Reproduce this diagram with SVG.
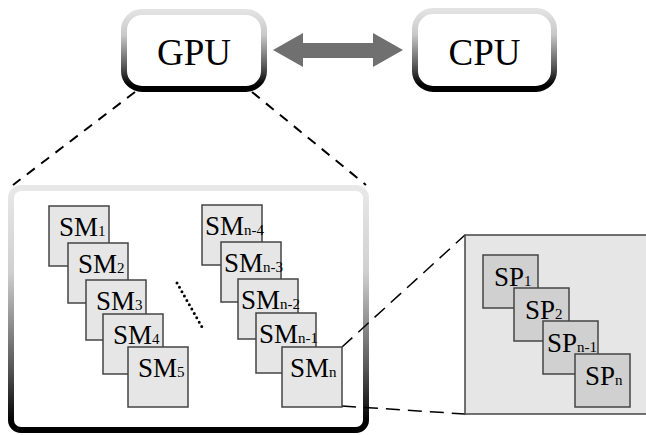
<svg xmlns="http://www.w3.org/2000/svg" width="646" height="435" viewBox="0 0 646 435">
<style>
text{font-family:"Liberation Serif","Times New Roman",serif;fill:#000}
.big{font-size:37px;text-anchor:middle}
.lbl{font-size:27px}
.sub{font-size:15px}
.sm{fill:#e6e6e6;stroke:#444;stroke-width:1.5}
.sp{fill:#d0d0d0;stroke:#444;stroke-width:1.5}
.dash{fill:none;stroke:#000;stroke-width:2;stroke-dasharray:10 8}
.dash2{fill:none;stroke:#000;stroke-width:1.5;stroke-dasharray:14 8}
</style>
<defs>
<linearGradient id="gr" x1="0" y1="0" x2="0" y2="1">
<stop offset="0" stop-color="#e2e2e2"/>
<stop offset="0.3" stop-color="#c8c8c8"/>
<stop offset="0.7" stop-color="#5a5a5a"/>
<stop offset="0.95" stop-color="#000"/>
</linearGradient>
<linearGradient id="gr2" x1="0" y1="0" x2="0" y2="1">
<stop offset="0" stop-color="#e8e8e8"/>
<stop offset="0.35" stop-color="#cfcfcf"/>
<stop offset="0.75" stop-color="#555"/>
<stop offset="0.97" stop-color="#000"/>
</linearGradient>
</defs>
<g id="gpu-detail">
<rect x="11" y="188" width="355" height="242" rx="10" fill="#fff" stroke="url(#gr2)" stroke-width="6"/>
</g>
<g id="connectors">
<line class="dash" x1="135" y1="92" x2="13" y2="185"/>
<line class="dash" x1="252" y1="92" x2="366" y2="185"/>
<line class="dash2" x1="342" y1="347" x2="465" y2="235"/>
<line class="dash2" x1="342" y1="406" x2="465" y2="414"/>
<polygon fill="#707070" points="273,50 303,33 303,43 373,43 373,33 403,50 373,67 373,58 303,58 303,67"/>
</g>
<g id="gpu">
<rect x="124" y="12" width="140" height="77" rx="18" fill="#fff" stroke="url(#gr)" stroke-width="6"/>
<text class="big" x="194" y="65">GPU</text>
</g>
<g id="cpu">
<rect x="415" y="11" width="139" height="78" rx="18" fill="#fff" stroke="url(#gr)" stroke-width="6"/>
<text class="big" x="484.5" y="65">CPU</text>
</g>
<g id="sm1"><rect class="sm" x="49" y="206" width="60" height="60"/><text class="lbl" x="59" y="236">SM<tspan class="sub">1</tspan></text></g>
<g id="sm2"><rect class="sm" x="68" y="243" width="60" height="60"/><text class="lbl" x="78" y="273">SM<tspan class="sub">2</tspan></text></g>
<g id="sm3"><rect class="sm" x="86" y="280" width="60" height="60"/><text class="lbl" x="96" y="310">SM<tspan class="sub">3</tspan></text></g>
<g id="sm4"><rect class="sm" x="103" y="314" width="60" height="60"/><text class="lbl" x="113" y="344">SM<tspan class="sub">4</tspan></text></g>
<g id="sm5"><rect class="sm" x="128" y="347" width="60" height="60"/><text class="lbl" x="138" y="377">SM<tspan class="sub">5</tspan></text></g>
<g id="dots"><line x1="177" y1="283" x2="202" y2="327" stroke="#000" stroke-width="3" stroke-linecap="round" stroke-dasharray="0 5"/></g>
<g id="smn4"><rect class="sm" x="202" y="205" width="60" height="60"/><text class="lbl" x="205" y="235">SM<tspan class="sub">n-4</tspan></text></g>
<g id="smn3"><rect class="sm" x="221" y="242" width="60" height="60"/><text class="lbl" x="224" y="272">SM<tspan class="sub">n-3</tspan></text></g>
<g id="smn2"><rect class="sm" x="238" y="279" width="60" height="60"/><text class="lbl" x="241" y="309">SM<tspan class="sub">n-2</tspan></text></g>
<g id="smn1"><rect class="sm" x="256" y="313" width="60" height="60"/><text class="lbl" x="259" y="343">SM<tspan class="sub">n-1</tspan></text></g>
<g id="smn"><rect class="sm" x="282" y="347" width="60" height="60"/><text class="lbl" x="290" y="377">SM<tspan class="sub">n</tspan></text></g>
<g id="sm-detail"><rect x="465" y="235" width="190" height="179" fill="#e6e6e6" stroke="#444" stroke-width="1.5"/></g>
<g id="sp1"><rect class="sp" x="483" y="255" width="55" height="53"/><text class="lbl" x="494" y="286">SP<tspan class="sub">1</tspan></text></g>
<g id="sp2"><rect class="sp" x="514" y="288" width="55" height="53"/><text class="lbl" x="525" y="319">SP<tspan class="sub">2</tspan></text></g>
<g id="spn1"><rect class="sp" x="543" y="321" width="55" height="53"/><text class="lbl" x="547" y="352">SP<tspan class="sub">n-1</tspan></text></g>
<g id="spn"><rect class="sp" x="575" y="354" width="55" height="53"/><text class="lbl" x="585" y="385">SP<tspan class="sub">n</tspan></text></g>
</svg>
